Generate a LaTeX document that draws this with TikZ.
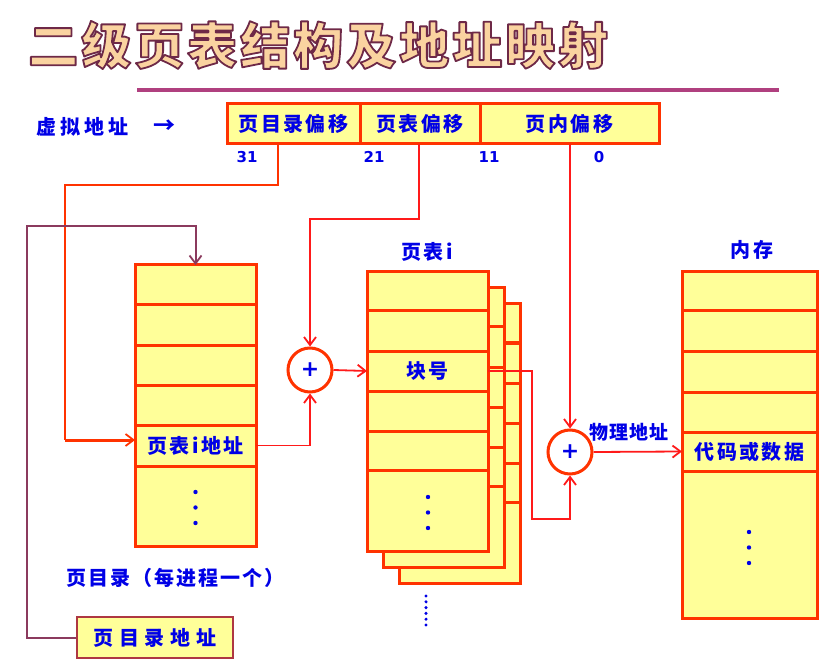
\documentclass[tikz,border=0pt]{standalone}
\usepackage{fontspec}
\newfontfamily\cjk{Noto Sans CJK SC}
\newfontfamily\numf{DejaVu Sans}
\usetikzlibrary{arrows.meta,calc}
\definecolor{ored}{HTML}{FF3300}
\definecolor{lred}{HTML}{FF1A1A}
\definecolor{lyel}{HTML}{FFFF99}
\definecolor{tblue}{HTML}{0000E6}
\definecolor{maroonc}{HTML}{8B3A5E}
\definecolor{ulpurple}{HTML}{B0407F}
\definecolor{tfill}{HTML}{FAD3A0}
\definecolor{tline}{HTML}{6E2848}
\newcommand\lblfont{\cjk\bfseries\fontsize{20}{22}\selectfont\addfontfeature{LetterSpace=12}}
\newcommand\ttlfont{\cjk\bfseries\fontsize{50}{52}\selectfont\addfontfeature{LetterSpace=6}}
\newcommand\numfont{\numf\bfseries\fontsize{15}{17}\selectfont}
\newcommand\ttltext{二级页表结构及地址映射}
\begin{document}
\begin{tikzpicture}[x=1pt,y=-1pt,
  cell/.style={draw=ored,fill=lyel,line width=3pt,inner sep=0pt,outer sep=0pt,text=tblue,font=\lblfont},
  lbl/.style={text=tblue,font=\lblfont,inner sep=0pt},
  numlbl/.style={text=tblue,font=\numfont,inner sep=0pt},
  adder/.style={circle,draw=ored,fill=white,line width=3pt,minimum size=44pt,inner sep=0pt,text=tblue,font=\numf\bfseries\fontsize{22}{22}\selectfont},
  redline/.style={draw=lred,line width=1.8pt},
  orline/.style={draw=ored,line width=2.4pt},
  purline/.style={draw=maroonc,line width=2pt},
  tip/.style={-{Straight Barb[length=8pt,width=12pt,line width=1.8pt]}},
  dot/.style={circle,fill=tblue,inner sep=0pt,minimum size=4.4pt}
]
\useasboundingbox (0,0) rectangle (828,663);

% ---------- title (outlined text: fill + stroke rendering) ----------
\node[anchor=west,inner sep=0pt,font=\ttlfont] (title) at (28,45)
  {\special{pdf:literal direct 2 Tr 1.8 w 1 j}\textcolor{tfill}{\special{pdf:literal direct 0.43 0.16 0.28 RG}\ttltext}\special{pdf:literal direct 0 Tr}};
\draw[ulpurple,line width=4pt] (137,90) -- (779,90);

% ---------- virtual address ----------
\node[lbl,anchor=west,font=\cjk\bfseries\fontsize{20}{22}\selectfont\addfontfeature{LetterSpace=20}] (va) at (36,127) {虚拟地址};
\node[lbl,anchor=center,font=\cjk\bfseries\fontsize{22}{22}\selectfont] (vaarr) at (164,127) {→};
\node[cell,minimum width=133pt,minimum height=40pt] (a1) at (293.5,124) {页目录偏移};
\node[cell,minimum width=120pt,minimum height=40pt] (a2) at (420,124) {页表偏移};
\node[cell,minimum width=179pt,minimum height=40pt] (a3) at (569.5,124) {页内偏移};
\node[numlbl] (n31) at (247,157) {31};
\node[numlbl] (n21) at (374,157) {21};
\node[numlbl] (n11) at (489,157) {11};
\node[numlbl] (n0) at (599,157) {0};

% ---------- page directory ----------
\node[cell,minimum width=121pt,minimum height=40pt] (d1) at (195.5,285) {};
\node[cell,minimum width=121pt,minimum height=40pt] (d2) at (195.5,325) {};
\node[cell,minimum width=121pt,minimum height=40pt] (d3) at (195.5,365) {};
\node[cell,minimum width=121pt,minimum height=40pt] (d4) at (195.5,405) {};
\node[cell,minimum width=121pt,minimum height=41pt] (d5) at (195.5,445.5) {页表i地址};
\node[cell,minimum width=121pt,minimum height=80pt] (d6) at (195.5,506) {};
\node[dot] (dd1) at (195.5,492) {};
\node[dot] (dd2) at (195.5,507.5) {};
\node[dot] (dd3) at (195.5,523) {};
\node[lbl,anchor=west,font=\cjk\bfseries\fontsize{20}{22}\selectfont\addfontfeature{LetterSpace=10}] (dirlbl) at (66,578) {页目录（每进程一个）};
\node[draw=maroonc!70!ored,fill=lyel,line width=2pt,inner sep=0pt,text=tblue,
      font=\cjk\bfseries\fontsize{20}{22}\selectfont\addfontfeature{LetterSpace=28},
      minimum width=156pt,minimum height=41pt] (dira) at (155,637.5) {页目录地址};

% ---------- page tables (stack) ----------
\foreach \o in {32,16}{
  \draw[draw=ored,fill=lyel,line width=3pt] (367+\o,272+\o) rectangle (488+\o,551+\o);
  \foreach \yy in {311,351,391,431,470}
    \draw[ored,line width=3pt] (367+\o,\yy+\o) -- (488+\o,\yy+\o);
}
\node[cell,minimum width=121pt,minimum height=39pt] (t1) at (427.5,291.5) {};
\node[cell,minimum width=121pt,minimum height=40pt] (t2) at (427.5,331) {};
\node[cell,minimum width=121pt,minimum height=40pt] (t3) at (427.5,371) {块号};
\node[cell,minimum width=121pt,minimum height=40pt] (t4) at (427.5,411) {};
\node[cell,minimum width=121pt,minimum height=39pt] (t5) at (427.5,450.5) {};
\node[cell,minimum width=121pt,minimum height=81pt] (t6) at (427.5,510.5) {};
\node[dot] (td1) at (428,497) {};
\node[dot] (td2) at (428,512.5) {};
\node[dot] (td3) at (428,528) {};
\node[lbl] (ptlbl) at (427,252) {页表i};
\foreach \yy [count=\i] in {596,601.8,607.6,613.4,619.2,625}
  \node[dot,minimum size=3.4pt] (sd\i) at (426,\yy) {};

% ---------- memory ----------
\node[cell,minimum width=135pt,minimum height=39pt] (m1) at (749.5,291.5) {};
\node[cell,minimum width=135pt,minimum height=40pt] (m2) at (749.5,331) {};
\node[cell,minimum width=135pt,minimum height=41pt] (m3) at (749.5,371.5) {};
\node[cell,minimum width=135pt,minimum height=40pt] (m4) at (749.5,412) {};
\node[cell,minimum width=135pt,minimum height=39pt] (m5) at (749.5,451.5) {代码或数据};
\node[cell,minimum width=135pt,minimum height=147pt] (m6) at (749.5,544.5) {};
\node[dot] (md1) at (749,532) {};
\node[dot] (md2) at (749,547.5) {};
\node[dot] (md3) at (749,563) {};
\node[lbl] (memlbl) at (752,250) {内存};

% ---------- adders ----------
\node[adder] (c1) at (310,370) {+};
\node[adder] (c2) at (570,452) {+};

% ---------- connectors ----------
\coordinate (p1) at (278,144);
\coordinate (p2) at (419,144);
\coordinate (p3) at (c2.north |- a3.south);
\draw[orline] (p1) -- (278,185) -- (65,185) -- (65,440);
\draw[orline,line width=3pt,tip] (65,440) -- (d5.west |- 0,440);
\draw[redline,tip] (p2) -- (419,219) -| (c1.north);
\draw[redline,tip] (p3) -- (c2.north);
\draw[redline,tip] (d5.east) -| (c1.south);
\draw[redline,tip] (c1.east) -- (t3.west);
\draw[redline,tip] (t3.east) -- (532,371) -- (532,519) -| (c2.south);
\draw[redline,tip] (c2.east) -- (m5.west);
\node[lbl,anchor=west,font=\cjk\bfseries\fontsize{19}{21}\selectfont\addfontfeature{LetterSpace=5}] (phys) at (589,432) {物理地址};
\draw[purline,tip] (dira.west) -- (27,637.5) -- (27,226) -| (d1.north);
\end{tikzpicture}
\end{document}
